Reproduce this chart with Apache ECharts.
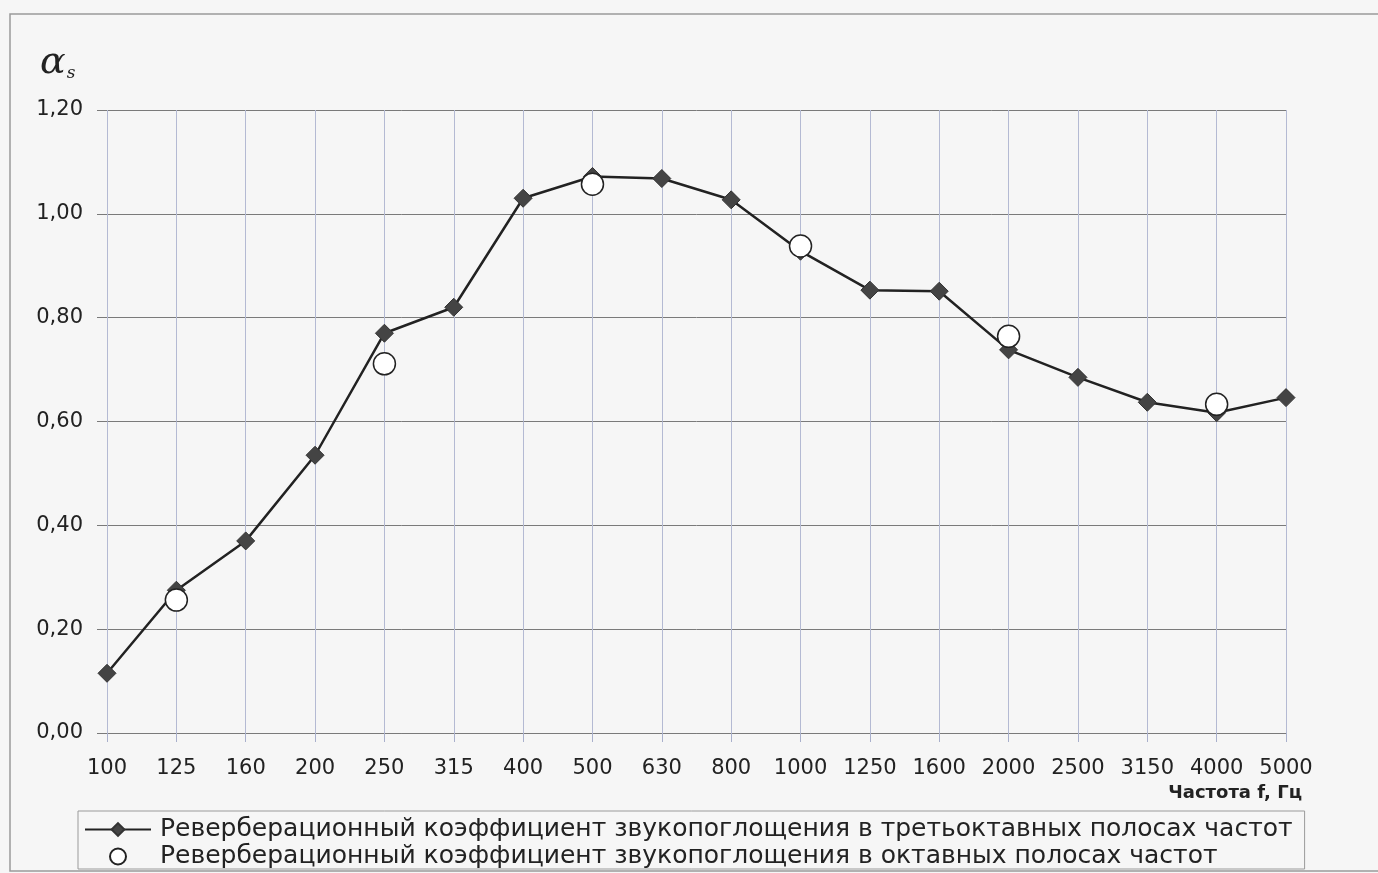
<!DOCTYPE html>
<html>
<head>
<meta charset="utf-8">
<title>Реверберационный коэффициент звукопоглощения</title>
<script src="https://cdn.jsdelivr.net/npm/echarts@6/dist/echarts.min.js"></script>
<style>
  html, body { margin: 0; padding: 0; background: #f6f6f6; }
  #chart { width: 1378px; height: 873px; }
</style>
</head>
<body>
<div id="chart"></div>
<script>
// частоты, Гц
const freqs = ['100', '125', '160', '200', '250', '315', '400', '500', '630', '800',
  '1000', '1250', '1600', '2000', '2500', '3150', '4000', '5000']
// третьоктавные полосы
const thirdOctave = [0.115, 0.275, 0.37, 0.535, 0.77, 0.82, 1.03, 1.072, 1.068, 1.027,
  0.928, 0.853, 0.851, 0.738, 0.685, 0.637, 0.617, 0.646]
// октавные полосы ('-' = нет точки)
const octave = ['-', 0.256, '-', '-', 0.711, '-', '-', 1.057, '-', '-',
  0.938, '-', '-', 0.764, '-', '-', 0.633, '-']
const yTicks = { min: 0, max: 1.2, step: 0.2 }

const name1 = 'Реверберационный коэффициент звукопоглощения в третьоктавных полосах частот'
const name2 = 'Реверберационный коэффициент звукопоглощения в октавных полосах частот'

const font = 'DejaVu Sans'
const chart = echarts.init(document.getElementById('chart'))

const option = {
  backgroundColor: '#f6f6f6',
  animation: false,
  grid: { left: 107, right: 92, top: 110, bottom: 140 },
  legend: {
    orient: 'vertical',
    left: 78,
    top: 811,
    padding: [6, 12, 0, 6],
    itemGap: 2,
    itemWidth: 66,
    itemHeight: 16,
    borderColor: '#9a9a9a',
    borderWidth: 1,
    textStyle: { fontFamily: font, fontSize: 25, lineHeight: 25, color: '#222', padding: [0, 0, 0, 4] },
    data: [{ name: name1 }, { name: name2 }]
  },
  xAxis: {
    type: 'category',
    data: freqs,
    boundaryGap: false,
    axisLine: { lineStyle: { color: '#7a7a7a', width: 1 } },
    axisTick: { show: true, interval: 0, length: 9, lineStyle: { color: '#a9b0cc' } },
    axisLabel: { interval: 0, fontFamily: font, fontSize: 21, color: '#222', margin: 25 },
    splitLine: { show: true, interval: 0, lineStyle: { color: '#b4bad3', width: 1 } }
  },
  yAxis: {
    type: 'value',
    min: yTicks.min,
    max: yTicks.max,
    interval: yTicks.step,
    axisLine: { show: false },
    axisTick: { show: true, length: 10, lineStyle: { color: '#7a7a7a' } },
    axisLabel: {
      fontFamily: font, fontSize: 21, color: '#222', margin: 24,
      formatter: v => v.toFixed(2).replace('.', ',')
    },
    splitLine: { lineStyle: { color: '#7a7a7a', width: 1 } }
  },
  series: [
    {
      name: name1,
      type: 'line',
      data: thirdOctave,
      symbol: 'diamond',
      symbolSize: 18,
      lineStyle: { color: '#222', width: 2.5 },
      itemStyle: { color: '#444', borderColor: '#333', borderWidth: 1 },
      z: 3
    },
    {
      name: name2,
      type: 'scatter',
      data: octave,
      symbol: 'circle',
      symbolSize: 22,
      itemStyle: { color: '#fff', borderColor: '#222', borderWidth: 1.5, opacity: 1 },
      z: 4
    }
  ],
  graphic: [
    {
      type: 'rect',
      shape: { x: 10, y: 14, width: 1400, height: 857 },
      style: { fill: null, stroke: '#9a9a9a', lineWidth: 1.5 },
      silent: true
    },
    {
      type: 'text',
      left: 40,
      top: 44,
      style: {
        text: '{a|α}{s|s}',
        rich: {
          a: { fontFamily: 'DejaVu Serif', fontStyle: 'italic', fontSize: 38, fill: '#222' },
          s: { fontFamily: 'DejaVu Serif', fontStyle: 'italic', fontSize: 17, fill: '#222', padding: [22, 0, 0, 1] }
        }
      }
    },
    {
      type: 'text',
      right: 76,
      top: 784,
      style: {
        text: 'Частота f, Гц',
        fontFamily: font,
        fontWeight: 'bold',
        fontSize: 18,
        fill: '#222'
      }
    }
  ]
}

chart.setOption(option)
window.addEventListener('resize', () => chart.resize())
</script>
</body>
</html>
